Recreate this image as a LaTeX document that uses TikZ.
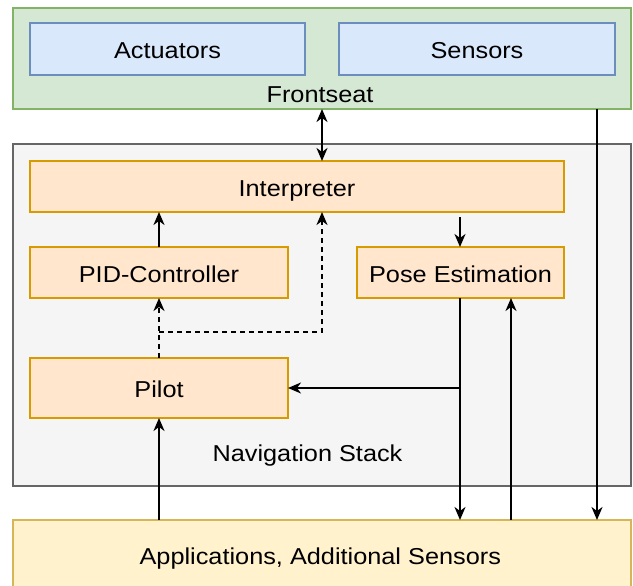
\documentclass[tikz,border=0pt]{standalone}
\usepackage{fontspec}
\setmainfont[FakeStretch=1.1]{Liberation Sans}
\usetikzlibrary{arrows.meta}
\definecolor{grnF}{HTML}{D5E8D4}\definecolor{grnD}{HTML}{82B366}
\definecolor{bluF}{HTML}{DAE8FC}\definecolor{bluD}{HTML}{6C8EBF}
\definecolor{orgF}{HTML}{FFE6CC}\definecolor{orgD}{HTML}{D79B00}
\definecolor{gryF}{HTML}{F5F5F5}\definecolor{gryD}{HTML}{666666}
\definecolor{ylwF}{HTML}{FFF2CC}\definecolor{ylwD}{HTML}{D6B656}
\begin{document}
\begin{tikzpicture}[x=1pt,y=-1pt,
  every node/.style={font=\fontsize{23}{28}\selectfont, inner sep=0pt, outer sep=0pt},
  box/.style={draw, rectangle, line width=1.6pt, text height=19.5pt, text depth=0pt},
  green/.style={box, fill=grnF, draw=grnD},
  blue/.style={box, fill=bluF, draw=bluD},
  orange/.style={box, fill=orgF, draw=orgD},
  gray/.style={box, fill=gryF, draw=gryD},
  yellow/.style={box, fill=ylwF, draw=ylwD},
  lbl/.style={anchor=base},
  arr/.style={line width=1.6pt, -{Stealth[length=13pt,width=11pt,inset=4pt]}},
  arrb/.style={line width=1.6pt, {Stealth[length=13pt,width=11pt,inset=4pt]}-{Stealth[length=13pt,width=11pt,inset=4pt]}},
  darr/.style={line width=1.6pt, dash pattern=on 5pt off 4pt, -{Stealth[length=13pt,width=11pt,inset=4pt]}}]
\useasboundingbox (0,0) rectangle (633,586);
% frontseat
\node[green, minimum width=618pt, minimum height=101pt] (fs) at (322,58.5) {};
\node[blue, minimum width=275pt, minimum height=52pt] (act) at (167.5,49) {Actuators};
\node[blue, minimum width=276pt, minimum height=52pt] (sen) at (477,49) {Sensors};
\node[lbl] (fslbl) at (320,102.3) {Frontseat};
% navigation stack
\node[gray, minimum width=618pt, minimum height=342pt] (nav) at (322,315) {};
\node[orange, minimum width=534pt, minimum height=51pt] (interp) at (297,186.5) {Interpreter};
\node[orange, minimum width=258pt, minimum height=51pt] (pid) at (159,272.5) {PID-Controller};
\node[orange, minimum width=207pt, minimum height=51pt] (pose) at (460.5,272.5) {Pose Estimation};
\node[orange, minimum width=258pt, minimum height=60pt] (pilot) at (159,388) {Pilot};
\node[lbl] (navlbl) at (307.5,461.7) {Navigation Stack};
% applications
\node[yellow, minimum width=618pt, minimum height=70pt] (apps) at (322,555) {};
\node[lbl] (appslbl) at (320.3,564.3) {Applications, Additional Sensors};
% connectors
\coordinate (sline) at ([xshift=-34pt]fs.south east);
\coordinate (pdown) at ([xshift=-0.5pt]pose.south);
\coordinate (aup) at ([xshift=50.5pt]pose.south);
\coordinate (dj) at ([yshift=26pt]pilot.north);
\draw[arrb] (fs.south) -- (fs.south |- interp.north);
\draw[arr] (sline) -- (sline |- apps.north);
\draw[arr] (pid.north) -- (pid.north |- interp.south);
\draw[arr, shorten <=5pt] (pdown |- interp.south) -- (pdown |- pose.north);
\draw[darr] (pilot.north) -- (pid.south);
\draw[darr] (dj) -| (fs.south |- interp.south);
\draw[arr] (pdown) -- (pdown |- apps.north);
\draw[arr] (pdown |- pilot.east) -- (pilot.east);
\draw[arr] (aup |- apps.north) -- (aup);
\draw[arr] (pilot.south |- apps.north) -- (pilot.south);
\end{tikzpicture}
\end{document}
